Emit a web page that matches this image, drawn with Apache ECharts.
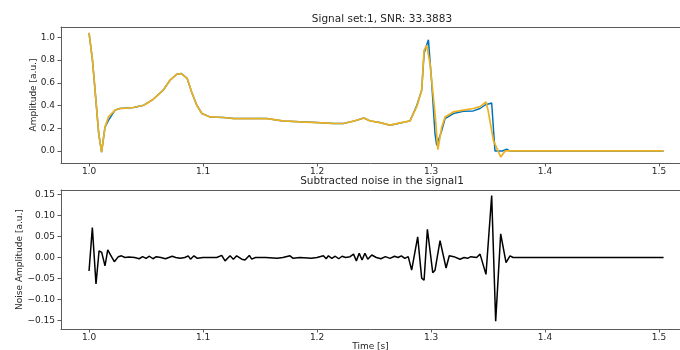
<!DOCTYPE html>
<html>
<head>
<meta charset="utf-8">
<script src="https://cdn.jsdelivr.net/npm/echarts@6/dist/echarts.min.js"></script>
<style>
  html, body { margin: 0; padding: 0; background: #fff; }
  #chart { width: 680px; height: 350px; }
</style>
</head>
<body>
<div id="chart"></div>
<script>
// original signal (blue)
const signalT = [1.000, 1.003, 1.006, 1.0085, 1.011, 1.014, 1.017, 1.0228, 1.027, 1.033, 1.039, 1.048, 1.056, 1.065, 1.071, 1.077, 1.081, 1.086, 1.090, 1.0945, 1.099, 1.106, 1.118, 1.127, 1.141, 1.156, 1.170, 1.185, 1.200, 1.214, 1.223, 1.233, 1.241, 1.2465, 1.255, 1.264, 1.273, 1.2816, 1.2875, 1.2918, 1.2939, 1.2977, 1.3006, 1.3035, 1.305, 1.3094, 1.3123, 1.3196, 1.3284, 1.337, 1.343, 1.3474, 1.3532, 1.3561, 1.3625, 1.3664, 1.369, 1.504];
const signalV = [1.04, 0.80, 0.45, 0.15, -0.01, 0.21, 0.27, 0.36, 0.374, 0.378, 0.383, 0.403, 0.453, 0.535, 0.623, 0.676, 0.682, 0.64, 0.52, 0.403, 0.33, 0.30, 0.295, 0.285, 0.285, 0.285, 0.265, 0.257, 0.25, 0.243, 0.242, 0.265, 0.29, 0.265, 0.25, 0.227, 0.247, 0.265, 0.40, 0.535, 0.86, 0.98, 0.60, 0.15, 0.05, 0.18, 0.285, 0.33, 0.35, 0.353, 0.374, 0.405, 0.423, 0.0, 0.0, 0.015, 0.0, 0.0];

// denoised signal (yellow)
const denoisedT = [1.000, 1.003, 1.006, 1.0085, 1.011, 1.014, 1.017, 1.0228, 1.027, 1.033, 1.039, 1.048, 1.056, 1.065, 1.071, 1.077, 1.081, 1.086, 1.090, 1.0945, 1.099, 1.106, 1.118, 1.127, 1.141, 1.156, 1.170, 1.185, 1.200, 1.214, 1.223, 1.233, 1.241, 1.2465, 1.255, 1.264, 1.273, 1.2816, 1.2875, 1.2918, 1.2939, 1.2962, 1.2991, 1.3035, 1.3060, 1.3094, 1.3123, 1.3196, 1.3284, 1.337, 1.343, 1.3482, 1.350, 1.3547, 1.3611, 1.365, 1.504];
const denoisedV = [1.04, 0.80, 0.45, 0.15, -0.01, 0.21, 0.30, 0.36, 0.374, 0.378, 0.383, 0.403, 0.453, 0.535, 0.623, 0.676, 0.682, 0.64, 0.52, 0.403, 0.33, 0.30, 0.295, 0.285, 0.285, 0.285, 0.265, 0.257, 0.25, 0.243, 0.242, 0.265, 0.29, 0.265, 0.25, 0.227, 0.247, 0.265, 0.39, 0.535, 0.888, 0.93, 0.77, 0.33, 0.012, 0.21, 0.30, 0.344, 0.36, 0.374, 0.39, 0.432, 0.36, 0.094, -0.053, 0.0, 0.0];

// subtracted noise (black)
const noiseT = [1.0000, 1.0029, 1.0061, 1.0088, 1.0111, 1.0140, 1.0164, 1.0193, 1.0222, 1.0257, 1.0285, 1.0315, 1.0350, 1.0400, 1.0440, 1.0470, 1.0500, 1.0530, 1.0560, 1.0590, 1.0630, 1.0670, 1.0700, 1.0730, 1.0760, 1.0800, 1.0840, 1.0870, 1.0890, 1.0920, 1.0950, 1.1000, 1.1050, 1.1120, 1.1164, 1.1193, 1.1237, 1.1266, 1.1295, 1.1340, 1.1368, 1.1406, 1.1427, 1.1460, 1.1550, 1.1650, 1.1700, 1.1763, 1.1790, 1.1850, 1.1950, 1.2000, 1.2056, 1.2080, 1.2100, 1.2130, 1.2160, 1.2190, 1.2220, 1.2250, 1.2290, 1.2320, 1.2345, 1.2370, 1.2395, 1.2420, 1.2445, 1.2480, 1.2520, 1.2560, 1.2600, 1.2640, 1.2680, 1.2710, 1.2740, 1.2770, 1.2800, 1.2830, 1.2883, 1.2918, 1.2939, 1.2968, 1.3015, 1.3035, 1.3079, 1.3132, 1.3160, 1.3200, 1.3254, 1.3290, 1.3320, 1.3350, 1.3400, 1.3430, 1.3482, 1.3532, 1.3567, 1.3611, 1.3658, 1.3693, 1.3720, 1.5040];
const noiseV = [-0.032, 0.071, -0.063, 0.016, 0.012, -0.020, 0.018, 0.004, -0.010, 0.002, 0.004, 0.000, 0.001, 0.000, -0.003, 0.002, -0.002, 0.003, -0.003, 0.002, 0.000, -0.003, 0.000, 0.003, 0.000, -0.002, 0.000, 0.004, -0.004, 0.004, -0.002, 0.000, 0.000, 0.000, 0.005, -0.008, 0.004, -0.004, 0.004, -0.004, -0.006, 0.005, -0.004, 0.000, 0.000, -0.002, 0.000, 0.004, -0.002, 0.000, -0.002, 0.000, 0.004, -0.003, 0.004, -0.002, 0.003, -0.003, 0.003, 0.000, 0.002, 0.008, -0.008, 0.010, -0.006, 0.010, -0.004, 0.006, 0.000, -0.003, 0.002, -0.002, 0.003, 0.000, 0.004, -0.002, 0.002, -0.030, 0.049, -0.049, -0.054, 0.067, -0.036, -0.030, 0.040, -0.025, 0.004, 0.002, -0.004, 0.000, -0.002, 0.002, 0.000, 0.008, -0.040, 0.147, -0.151, 0.056, -0.012, 0.004, 0.000, 0.000];

// tick labels
const timeTicks = [1.0, 1.1, 1.2, 1.3, 1.4, 1.5];
const ampTicks = [0.0, 0.2, 0.4, 0.6, 0.8, 1.0];
const noiseTicks = [-0.15, -0.10, -0.05, 0.00, 0.05, 0.10, 0.15];

const zip = (t, v) => t.map((x, i) => [x, v[i]]);

const font = 'DejaVu Sans';
const ink = '#262626';
const spine = '#5a5a5a';
// the right spine of the figure is cropped away, so the axis runs to the edge
const xMin = 0.9754, xMax = 1.5184;

const xAxisBase = (gridIndex, name) => ({
  type: 'value',
  gridIndex,
  min: xMin,
  max: xMax,
  name,
  nameLocation: 'middle',
  nameGap: 13,
  nameMoveOverlap: false,
  nameTextStyle: { fontFamily: font, fontSize: 9, color: ink },
  splitLine: { show: false },
  axisLine: { show: true, onZero: false, lineStyle: { color: spine, width: 1 } },
  axisTick: { show: true, inside: false, length: 3.5, customValues: timeTicks, lineStyle: { color: spine } },
  axisLabel: {
    margin: 4, fontFamily: font, fontSize: 9, color: ink,
    customValues: timeTicks,
    formatter: v => v.toFixed(1)
  }
});

// top spine only
const topSpine = gridIndex => ({
  type: 'value',
  gridIndex,
  position: 'top',
  min: xMin,
  max: xMax,
  splitLine: { show: false },
  axisLine: { show: true, onZero: false, lineStyle: { color: spine, width: 1 } },
  axisTick: { show: false },
  axisLabel: { show: false }
});

const yAxisBase = (gridIndex, min, max, ticks, digits, name, gap) => ({
  type: 'value',
  gridIndex,
  min, max,
  name,
  nameLocation: 'middle',
  nameGap: gap,
  nameMoveOverlap: false,
  nameTextStyle: { fontFamily: font, fontSize: 9, color: ink },
  splitLine: { show: false },
  axisLine: { show: true, lineStyle: { color: spine, width: 1 } },
  axisTick: { show: true, inside: false, length: 3.5, customValues: ticks, lineStyle: { color: spine } },
  axisLabel: {
    margin: 6, fontFamily: font, fontSize: 9, color: ink,
    customValues: ticks,
    formatter: v => v.toFixed(digits).replace('-', '\u2212')
  }
});

const chart = echarts.init(document.getElementById('chart'), null, { renderer: 'canvas' });

chart.setOption({
  animation: false,
  backgroundColor: '#fff',
  title: [
    { text: 'Signal set:1, SNR: 33.3883', left: 377, top: 9, textAlign: 'center',
      textStyle: { fontFamily: font, fontSize: 10.5, fontWeight: 'normal', color: ink } },
    { text: 'Subtracted noise in the signal1', left: 377, top: 171, textAlign: 'center',
      textStyle: { fontFamily: font, fontSize: 10.5, fontWeight: 'normal', color: ink } }
  ],
  grid: [
    { left: 61, right: 0, top: 27, bottom: 187, outerBoundsMode: 'none' },
    { left: 61, right: 0, top: 190, bottom: 21, outerBoundsMode: 'none' }
  ],
  xAxis: [
    xAxisBase(0, ''),
    xAxisBase(1, 'Time [s]'),
    topSpine(0),
    topSpine(1)
  ],
  yAxis: [
    yAxisBase(0, -0.106, 1.092, ampTicks, 1, 'Amplitude [a.u.]', 23),
    yAxisBase(1, -0.1697, 0.1602, noiseTicks, 2, 'Noise Amplitude [a.u.]', 37)
  ],
  series: [
    {
      type: 'line', xAxisIndex: 0, yAxisIndex: 0,
      data: zip(signalT, signalV),
      showSymbol: false,
      lineStyle: { color: '#0072BD', width: 1.5 }
    },
    {
      type: 'line', xAxisIndex: 0, yAxisIndex: 0,
      data: zip(denoisedT, denoisedV),
      showSymbol: false,
      lineStyle: { color: '#EDB120', width: 1.7 }
    },
    {
      type: 'line', xAxisIndex: 1, yAxisIndex: 1,
      data: zip(noiseT, noiseV),
      showSymbol: false,
      lineStyle: { color: '#000', width: 1.5 }
    }
  ]
});
</script>
</body>
</html>
